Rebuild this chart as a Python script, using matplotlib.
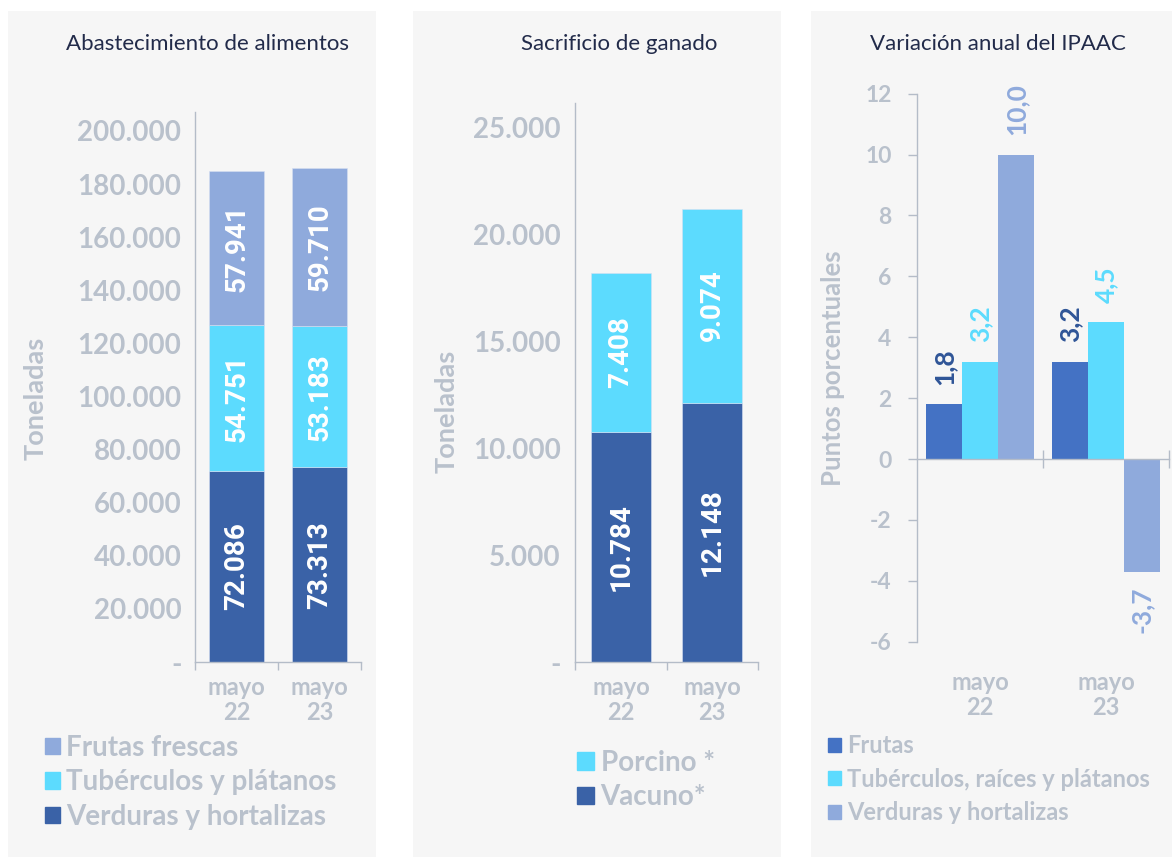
import matplotlib
matplotlib.use("Agg")
import matplotlib.pyplot as plt
from matplotlib.patches import Rectangle, Patch
from matplotlib.ticker import FuncFormatter, FixedLocator

# ---------------- data ----------------
periods = ["mayo\n22", "mayo\n23"]

abast_series = ["Verduras y hortalizas", "Tubérculos y plátanos", "Frutas frescas"]
abast_verduras = [72086, 73313]
abast_tuberculos = [54751, 53183]
abast_frutas = [57941, 59710]

sacr_series = ["Vacuno*", "Porcino *"]
sacr_vacuno = [10784, 12148]
sacr_porcino = [7408, 9074]

ipaac_series = ["Frutas", "Tubérculos, raíces y plátanos", "Verduras y hortalizas"]
ipaac_frutas = [1.8, 3.2]
ipaac_tuberculos = [3.2, 4.5]
ipaac_verduras = [10.0, -3.7]

# ---------------- style ----------------
W, H = 1172, 857
BG = "#f6f6f6"
GRAY = "#b9c1cc"
AXC = "#b4bcc8"
TITLE_C = "#222b4a"
DARK = "#3a62a7"
CYAN = "#5cdbfe"
LIGHT = "#8faadc"
FRUT = "#4472c4"
FONT = "Lato"
LBLFONT = "Roboto"

def fx(px):
    return px / W

def fy(py):
    return 1 - py / H

def thousands(v, pos=None):
    if abs(v) < 1e-9:
        return "-"
    return f"{int(round(v)):,}".replace(",", ".")

plt.rcParams["font.family"] = [FONT, "DejaVu Sans"]

fig = plt.figure(figsize=(W / 100, H / 100), dpi=100)
fig.patch.set_facecolor("white")

for x0, x1 in [(8, 376), (413, 780.7), (811, 1172)]:
    fig.add_artist(Rectangle((fx(x0), 0), (x1 - x0) / W, fy(11), transform=fig.transFigure,
                             facecolor=BG, edgecolor="none", zorder=0))

def make_axes(left, right, top, bottom):
    ax = fig.add_axes([fx(left), fy(bottom), (right - left) / W, (bottom - top) / H])
    ax.set_facecolor("none")
    for s in ["top", "right"]:
        ax.spines[s].set_visible(False)
    for s in ["left", "bottom"]:
        ax.spines[s].set_color(AXC)
        ax.spines[s].set_linewidth(1.0)
    return ax

def stacked_panel(ax, series_vals, colors, ymax, step, pad):
    x = list(range(len(periods)))
    bottoms = [0] * len(periods)
    for vals, col in zip(series_vals, colors):
        ax.bar(x, vals, width=0.66, bottom=bottoms, color=col, edgecolor="#d6e0f2",
               linewidth=0.4, zorder=2)
        for i, v in enumerate(vals):
            ax.text(i, bottoms[i] + v / 2, thousands(v), rotation=90, ha="center", va="center",
                    color="white", fontfamily=LBLFONT, fontweight="bold", fontsize=20, zorder=3)
        bottoms = [b + v for b, v in zip(bottoms, vals)]
    ax.set_xlim(-0.5, len(periods) - 0.5)
    ax.set_ylim(0, ymax)
    ax.yaxis.set_major_locator(FixedLocator(list(range(0, int(ymax) + 1, step))))
    ax.yaxis.set_major_formatter(FuncFormatter(thousands))
    ax.tick_params(axis="y", length=0, pad=pad, labelsize=20, labelcolor=GRAY)
    ax.set_xticks(x)
    ax.set_xticklabels(periods, linespacing=1.1)
    ax.set_xticks([-0.5, 0.5, 1.5], minor=True)
    ax.tick_params(axis="x", which="major", length=0, pad=10, labelsize=17, labelcolor=GRAY)
    ax.tick_params(axis="x", which="minor", length=6, width=1.0, color=AXC, direction="out")
    for lab in ax.get_xticklabels() + ax.get_yticklabels():
        lab.set_fontfamily(FONT)
        lab.set_fontweight("bold")

def style_legend(leg):
    for t in leg.get_texts():
        t.set_color(GRAY)

# ---------------- panel 1 ----------------
ax1 = make_axes(195.3, 361, 112, 662)
stacked_panel(ax1, [abast_verduras, abast_tuberculos, abast_frutas], [DARK, CYAN, LIGHT],
              207150, 20000, 10)
fig.text(fx(207.5), fy(44), "Abastecimiento de alimentos", ha="center", va="center",
         fontsize=16, color=TITLE_C, fontfamily=FONT)
fig.text(fx(36), fy(398), "Toneladas", rotation=90, ha="center", va="center",
         fontsize=19.5, color=GRAY, fontfamily=FONT, fontweight="bold")
h1 = [Patch(color=c) for c in [LIGHT, CYAN, DARK]]
leg1 = ax1.legend(h1, abast_series[::-1], loc="upper left", bbox_to_anchor=(fx(45), fy(735)),
                  bbox_transform=fig.transFigure, frameon=False, borderpad=0, borderaxespad=0,
                  handlelength=0.54, handleheight=0.54, handletextpad=0.22, labelspacing=0.3,
                  prop={"family": FONT, "weight": "bold", "size": 20})
style_legend(leg1)

# ---------------- panel 2 ----------------
ax2 = make_axes(575.3, 757.7, 103, 662)
stacked_panel(ax2, [sacr_vacuno, sacr_porcino], [DARK, CYAN], 26170, 5000, 10.5)
fig.text(fx(619), fy(44), "Sacrificio de ganado", ha="center", va="center",
         fontsize=16, color=TITLE_C, fontfamily=FONT)
fig.text(fx(447), fy(411), "Toneladas", rotation=90, ha="center", va="center",
         fontsize=19.5, color=GRAY, fontfamily=FONT, fontweight="bold")
h2 = [Patch(color=c) for c in [CYAN, DARK]]
leg2 = ax2.legend(h2, sacr_series[::-1], loc="upper left", bbox_to_anchor=(fx(577), fy(750)),
                  bbox_transform=fig.transFigure, frameon=False, borderpad=0, borderaxespad=0,
                  handlelength=0.61, handleheight=0.61, handletextpad=0.24, labelspacing=0.3,
                  prop={"family": FONT, "weight": "bold", "size": 20})
style_legend(leg2)

# ---------------- panel 3 ----------------
ax3 = make_axes(917.3, 1169, 93.7, 641.7)
ax3.spines["bottom"].set_position(("data", 0))
bw = 0.285
label_cols = ["#2f5597", CYAN, LIGHT]
for j, (vals, col, lc) in enumerate(zip([ipaac_frutas, ipaac_tuberculos, ipaac_verduras],
                                         [FRUT, CYAN, LIGHT], label_cols)):
    xs = [i + (j - 1) * bw for i in range(len(periods))]
    ax3.bar(xs, vals, width=bw, color=col, zorder=2)
    for xi, v in zip(xs, vals):
        txt = f"{v:.1f}".replace(".", ",")
        if v >= 0:
            ax3.annotate(txt, (xi, v), xytext=(0, 14), textcoords="offset points", rotation=90,
                         ha="center", va="bottom", color=lc, fontfamily=FONT, fontweight="bold",
                         fontsize=19)
        else:
            ax3.annotate(txt, (xi, v), xytext=(0, -11), textcoords="offset points", rotation=90,
                         ha="center", va="top", color=lc, fontfamily=FONT, fontweight="bold",
                         fontsize=19)
ax3.set_xlim(-0.5, len(periods) - 0.5)
ax3.set_ylim(-6, 12)
ax3.yaxis.set_major_locator(FixedLocator(list(range(-6, 13, 2))))
ax3.yaxis.set_major_formatter(FuncFormatter(lambda v, p: f"{int(round(v))}"))
ax3.tick_params(axis="y", length=6.5, width=1.0, color=AXC, direction="out", pad=12,
                labelsize=16.5, labelcolor=GRAY)
for lab in ax3.get_yticklabels():
    lab.set_fontfamily(FONT)
    lab.set_fontweight("bold")
ax3.set_xticks([0.5, 1.5])
ax3.set_xticklabels([])
ax3.tick_params(axis="x", length=13, width=1.0, color=AXC, direction="inout")
for i, p in enumerate(periods):
    ax3.annotate(p, (i, -6), xytext=(0, -21), textcoords="offset points", ha="center", va="top",
                 color=GRAY, fontfamily=FONT, fontweight="bold", fontsize=17, linespacing=1.1,
                 annotation_clip=False)
fig.text(fx(997.5), fy(44), "Variación anual del IPAAC", ha="center", va="center",
         fontsize=16, color=TITLE_C, fontfamily=FONT)
fig.text(fx(833), fy(368), "Puntos porcentuales", rotation=90, ha="center", va="center",
         fontsize=18.5, color=GRAY, fontfamily=FONT, fontweight="bold")
h3 = [Patch(color=c) for c in [FRUT, CYAN, LIGHT]]
leg3 = ax3.legend(h3, ipaac_series, loc="upper left", bbox_to_anchor=(fx(828), fy(734)),
                  bbox_transform=fig.transFigure, frameon=False, borderpad=0, borderaxespad=0,
                  handlelength=0.54, handleheight=0.54, handletextpad=0.25, labelspacing=0.45,
                  prop={"family": FONT, "weight": "bold", "size": 17})
style_legend(leg3)

fig.savefig("out.png", dpi=100)
